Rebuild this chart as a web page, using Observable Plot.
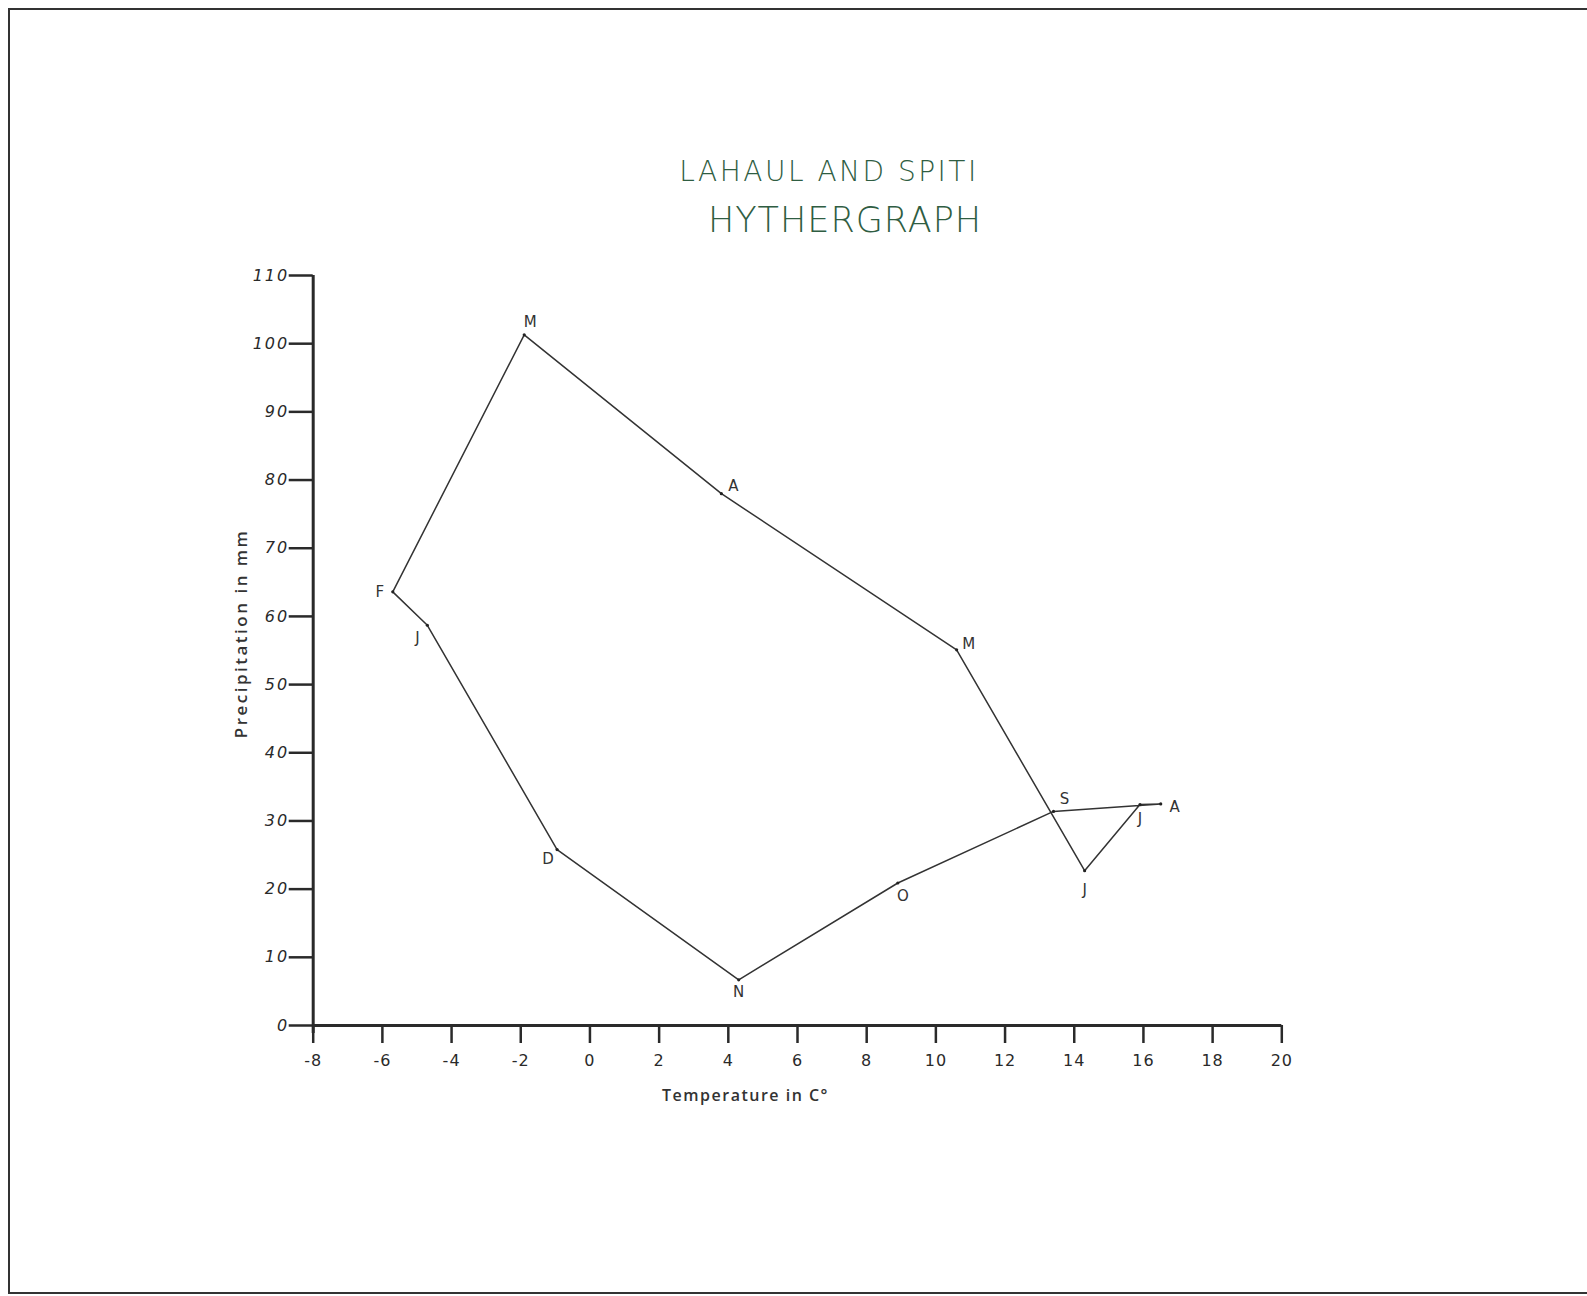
<!DOCTYPE html>
<html>
<head>
<meta charset="utf-8">
<script src="https://cdn.jsdelivr.net/npm/d3@7"></script>
<script src="https://cdn.jsdelivr.net/npm/@observablehq/plot@0.6"></script>
<style>
  html, body { margin: 0; padding: 0; background: #fff; }
  body { width: 1587px; height: 1296px; overflow: hidden; position: relative; }
  #frame { position: absolute; left: 8px; top: 8px; width: 1600px; height: 1282px;
           border-top: 2px solid #333; border-left: 2px solid #333; border-bottom: 2px solid #333; }
  #titles { position: relative; height: 255px; }
  #titles div { position: absolute; transform: translateX(-50%); white-space: nowrap;
                color: #2f5d42; font-family: "DejaVu Sans", sans-serif; font-weight: 300; }
  #t1 { left: 829px; top: 155px; font-size: 28px; letter-spacing: 2.5px; }
  #t2 { left: 845px; top: 200px; font-size: 35px; letter-spacing: 1px; }
  #chart { position: relative; }
</style>
</head>
<body>
<div id="frame"></div>
<div id="titles">
  <div id="t1">LAHAUL AND SPITI</div>
  <div id="t2">HYTHERGRAPH</div>
</div>
<div id="chart"></div>
<script>
// Data (Jan..Dec)
const months = ["J", "F", "M", "A", "M", "J", "J", "A", "S", "O", "N", "D"];
const temperature = [-4.7, -5.7, -1.9, 3.8, 10.6, 14.3, 15.9, 16.5, 13.4, 8.9, 4.3, -0.95];
const precipitation = [58.7, 63.6, 101.3, 78.0, 55.1, 22.7, 32.4, 32.5, 31.4, 20.9, 6.7, 25.8];
const xTicks = [-8, -6, -4, -2, 0, 2, 4, 6, 8, 10, 12, 14, 16, 18, 20];
const yTicks = [0, 10, 20, 30, 40, 50, 60, 70, 80, 90, 100, 110];
const yLabel = "Precipitation in mm";
const xLabel = "Temperature in C°";

// label placement (offsets in px, layout only)
const labelDx = [-10, -13, 6, 12, 12, 0, 0, 14, 11, 5, 0, -9];
const labelDy = [13, 0, -13, -7, -6, 19, 15, 3, -12, 13, 12, 10];

const rows = months.map((m, i) => ({month: m, t: temperature[i], p: precipitation[i], i}));

const ink = "#2a2a2a";

const plot = Plot.plot({
  width: 1587,
  height: 1030,
  marginLeft: 312.7,
  marginRight: 305.7,
  marginTop: 20,
  marginBottom: 260,
  style: {background: "transparent", color: ink, fontFamily: "DejaVu Sans, sans-serif"},
  x: {domain: [-8, 20]},
  y: {domain: [0, 110]},
  marks: [
    Plot.axisY({ticks: yTicks, tickSize: 24, tickPadding: 0, strokeWidth: 2.5, fontSize: 16,
                fontStyle: "italic", label: null, tickFormat: d => String(d)}),
    Plot.axisX({ticks: xTicks, tickSize: 18, tickPadding: 11, strokeWidth: 2.5, fontSize: 16,
                label: null, tickFormat: d => String(d)}),
    Plot.ruleX([-8], {y1: 110, y2: 0, stroke: ink, strokeWidth: 3, insetBottom: -8}),
    Plot.ruleY([0], {x1: -8, x2: 20, stroke: ink, strokeWidth: 3}),
    Plot.line(rows, {x: "t", y: "p", curve: "linear-closed", stroke: "#333", strokeWidth: 1.5}),
    Plot.dot(rows, {x: "t", y: "p", r: 1.6, fill: "#222"}),
    ...rows.map(r => Plot.text([r], {x: "t", y: "p", text: "month", dx: labelDx[r.i], dy: labelDy[r.i],
                                      fontSize: 15, fill: "#333"})),
    Plot.text([yLabel], {frameAnchor: "left", textAnchor: "middle", rotate: -90,
                         dx: -72, dy: -17, fontSize: 17, fill: "#333", fontWeight: 600,
                         fontFamily: "Open Sans, sans-serif"}),
    Plot.text([xLabel], {frameAnchor: "bottom", textAnchor: "middle", dx: -52, dy: 75,
                         fontSize: 16, fill: "#333", fontWeight: 600,
                         fontFamily: "Open Sans, sans-serif"})
  ]
});
const svg = d3.select(plot);
svg.selectAll("text").filter(function() { return this.textContent === yLabel; })
  .attr("letter-spacing", "2.5px");
svg.selectAll("text").filter(function() { return this.textContent === xLabel; })
  .attr("letter-spacing", "1.5px");
svg.selectAll('g[aria-label="y-axis tick label"] text').attr("letter-spacing", "2px");
svg.selectAll('g[aria-label="x-axis tick label"] text').attr("letter-spacing", "1px");
document.getElementById("chart").appendChild(plot);
</script>
</body>
</html>
